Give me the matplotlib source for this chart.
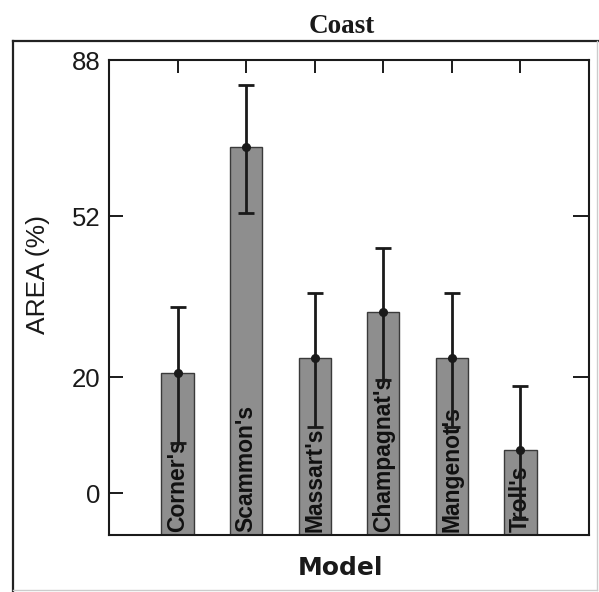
import numpy as np
import matplotlib
matplotlib.use("Agg")
import matplotlib.pyplot as plt
from matplotlib.lines import Line2D

# ---- data ----
models = ["Corner's", "Scammon's", "Massart's", "Champagnat's", "Mangenot's", "Troll's"]
area = [20.8, 67.3, 23.6, 32.4, 23.6, 7.1]
area_err = [12.5, 14.6, 12.5, 13.0, 12.5, 11.3]
y_ticks = [0, 20, 52, 88]
right_ticks = [20, 52]
title = "Coast"
xlabel = "Model"
ylabel = "AREA (%)"

OFFSET = 67.0
def fwd(y):
    return np.sqrt(np.maximum(np.asarray(y, dtype=float) + OFFSET, 0))
def inv(v):
    return np.asarray(v, dtype=float) ** 2 - OFFSET

YMIN, YMAX = -6.6, 88

fig = plt.figure(figsize=(5.99, 5.92), dpi=100)
fig.patch.set_facecolor("white")
W, H = 599, 592
ax = fig.add_axes([109 / W, 1 - 535 / H, (589 - 109) / W, (535 - 60) / H])

ax.set_yscale("function", functions=(fwd, inv))
ax.set_ylim(YMIN, YMAX)
ax.set_xlim(0, 7)

x = np.arange(1, len(models) + 1)
ax.bar(x, np.array(area) - YMIN, bottom=YMIN, width=0.47,
       color="#8e8e8e", edgecolor="#3a3a3a", linewidth=1.0, zorder=2)

for xi, name in zip(x, models):
    ax.text(xi, YMIN + 0.4, name, rotation=90, ha="center", va="bottom",
            rotation_mode="default", fontsize=16.5, fontweight="bold",
            family="Liberation Sans", color="#111111", zorder=3)

ax.errorbar(x, area, yerr=area_err, fmt="o", color="#1a1a1a", ecolor="#1a1a1a",
            elinewidth=2.0, capsize=5.8, capthick=2.0, markersize=5.5, zorder=4)

# ticks
ax.set_yticks(y_ticks)
ax.set_yticklabels([str(t) for t in y_ticks])
ax.yaxis.set_minor_locator(matplotlib.ticker.NullLocator())
ax.tick_params(axis="y", which="major", direction="in", length=10, width=1.4,
               labelsize=18.5, pad=6, left=True, right=False, colors="#1a1a1a")
for lab in ax.get_yticklabels():
    lab.set_family("Liberation Sans")

ax.set_xticks(x)
ax.set_xticklabels([])
ax.tick_params(axis="x", direction="in", length=9.5, width=1.4,
               top=True, bottom=False, labelbottom=False, colors="#1a1a1a")

tw = ax.twinx()
tw.set_yscale("function", functions=(fwd, inv))
tw.set_ylim(YMIN, YMAX)
tw.set_yticks(right_ticks)
tw.set_yticklabels([])
tw.yaxis.set_minor_locator(matplotlib.ticker.NullLocator())
tw.tick_params(axis="y", direction="in", length=11.5, width=1.4, colors="#1a1a1a")
for sp in tw.spines.values():
    sp.set_visible(False)

for sp in ax.spines.values():
    sp.set_linewidth(1.5)
    sp.set_color("#1a1a1a")

ax.set_ylabel(ylabel, fontsize=19, family="Liberation Sans", va="center", color="#1a1a1a")
ax.yaxis.set_label_coords((38 - 109) / 480, (535 - 274) / 475)

ax.set_xlabel(xlabel, fontsize=18, fontweight="bold", family="DejaVu Sans", color="#1a1a1a")
ax.xaxis.set_label_coords((340 - 109) / 480, -0.045)

ax.set_title(title, fontsize=19.5, fontweight="bold", family="Liberation Serif",
             x=(342 - 109) / 480, y=(535 - 33) / 475, pad=0, va="baseline", color="#1a1a1a")

# outer frame of the panel
fig.add_artist(Line2D([13 / W, 13 / W], [1 - 41 / H, 0.0], color="#222222", lw=1.6))
fig.add_artist(Line2D([13 / W, 1.0], [1 - 41 / H, 1 - 41 / H], color="#222222", lw=1.6))
fig.add_artist(Line2D([597 / W, 597 / W], [1 - 41 / H, 2 / H], color="#cccccc", lw=1.0))
fig.add_artist(Line2D([13 / W, 597 / W], [2 / H, 2 / H], color="#cccccc", lw=1.0))

fig.savefig("out.png", dpi=100)
